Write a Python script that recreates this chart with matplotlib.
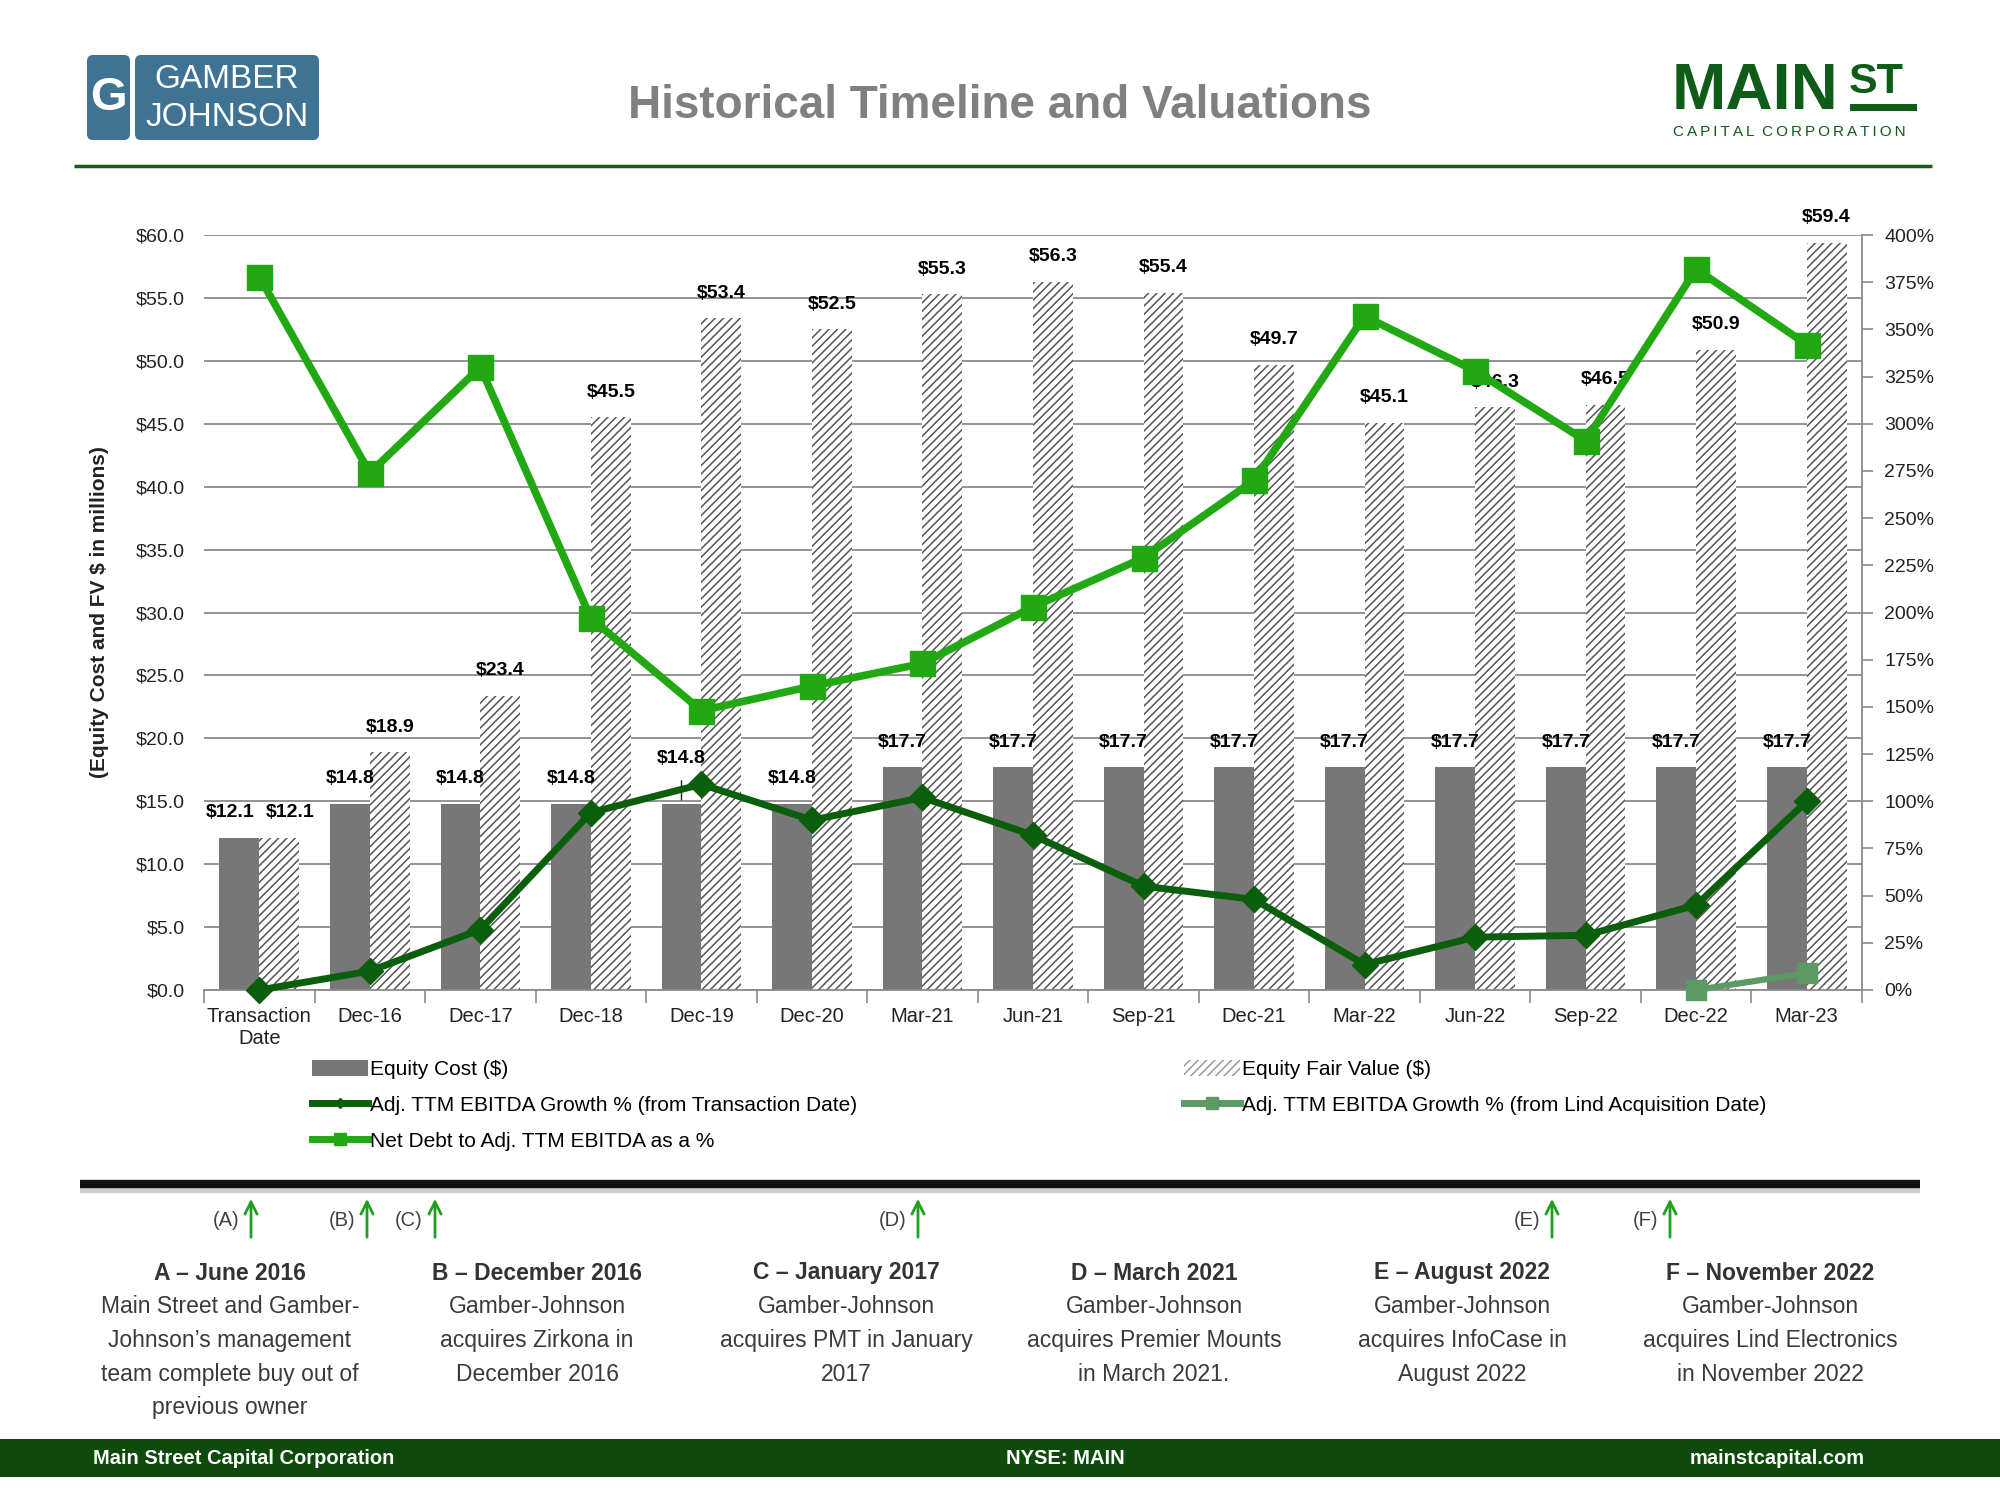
import numpy as np
import matplotlib.pyplot as plt
from matplotlib.patches import Patch, FancyBboxPatch, Rectangle
from matplotlib.lines import Line2D

plt.rcParams['font.family'] = ['Liberation Sans', 'DejaVu Sans']
plt.rcParams['hatch.linewidth'] = 1.1
plt.rcParams['hatch.color'] = '#555555'

# Dados
periodos = ['Transaction\nDate', 'Dec-16', 'Dec-17', 'Dec-18', 'Dec-19', 'Dec-20', 'Mar-21',
            'Jun-21', 'Sep-21', 'Dec-21', 'Mar-22', 'Jun-22', 'Sep-22', 'Dec-22', 'Mar-23']
custo = [12.1, 14.8, 14.8, 14.8, 14.8, 14.8, 17.7, 17.7, 17.7, 17.7, 17.7, 17.7, 17.7, 17.7, 17.7]
valor_justo = [12.1, 18.9, 23.4, 45.5, 53.4, 52.5, 55.3, 56.3, 55.4, 49.7, 45.1, 46.3, 46.5, 50.9, 59.4]
cresc_ebitda = [0, 10, 32, 94, 109, 90, 102, 82, 55, 48, 13.5, 28, 29, 45, 100]
cresc_lind = [np.nan] * 13 + [0, 9]
divida_ebitda = [378, 274, 330, 197, 148, 161, 173, 203, 229, 270, 357, 328, 291, 382, 342]

eventos_letra = ['(A)', '(B)', '(C)', '(D)', '(E)', '(F)']
eventos_x = [251, 367, 435, 918, 1552, 1670]
eventos_titulo = ['A – June 2016', 'B – December 2016', 'C – January 2017',
                  'D – March 2021', 'E – August 2022', 'F – November 2022']
eventos_texto = ["Main Street and Gamber-\nJohnson’s management\nteam complete buy out of\nprevious owner",
                 "Gamber-Johnson\nacquires Zirkona in\nDecember 2016",
                 "Gamber-Johnson\nacquires PMT in January\n2017",
                 "Gamber-Johnson\nacquires Premier Mounts\nin March 2021.",
                 "Gamber-Johnson\nacquires InfoCase in\nAugust 2022",
                 "Gamber-Johnson\nacquires Lind Electronics\nin November 2022"]
eventos_cx = [230, 537, 846, 1154, 1462, 1770]

cor_custo = '#777777'
cor_ebitda = '#0b5e0b'
cor_lind = '#5c9a63'
cor_divida = '#22a812'
verde_escuro = '#0d4a0c'

fig = plt.figure(figsize=(20, 15), dpi=100)

# Camada de fundo em pixels para os elementos decorativos
bg = fig.add_axes([0, 0, 1, 1])
bg.set_xlim(0, 2000)
bg.set_ylim(1500, 0)
bg.axis('off')

# Logo Gamber-Johnson
azul = '#3e7394'
bg.add_patch(FancyBboxPatch((87, 55), 43, 85, boxstyle='round,pad=0,rounding_size=6', fc=azul, ec='none'))
bg.add_patch(FancyBboxPatch((135, 55), 184, 85, boxstyle='round,pad=0,rounding_size=6', fc=azul, ec='none'))
bg.text(108.5, 98, 'G', color='white', fontsize=34, fontweight='bold', ha='center', va='center')
bg.text(227, 80, 'GAMBER', color='white', fontsize=24, ha='center', va='center')
bg.text(227, 118, 'JOHNSON', color='white', fontsize=24, ha='center', va='center')

# Titulo
bg.text(1000, 106, 'Historical Timeline and Valuations', color='#808080', fontsize=33,
        fontweight='bold', ha='center', va='center')

# Logo Main Street
verde_logo = '#0e5c18'
bg.text(1672, 109, 'MAIN', color=verde_logo, fontsize=47, fontweight='bold', ha='left', va='baseline')
bg.text(1849, 93, 'ST', color=verde_logo, fontsize=31, fontweight='bold', ha='left', va='baseline')
bg.add_patch(Rectangle((1850, 104), 67, 7, fc=verde_logo, ec='none'))
bg.text(1673, 136, '\u2009'.join('CAPITAL') + '\u2002' + '\u2009'.join('CORPORATION'), color=verde_logo,
        fontsize=11, ha='left', va='baseline')

# Linha verde do topo
bg.plot([74, 1932], [166, 166], color='#1c5a1c', lw=2.5, solid_capstyle='butt')

# Separador preto com sombra
bg.plot([80, 1920], [1189, 1189], color='#cfcfcf', lw=6, solid_capstyle='butt')
bg.plot([80, 1920], [1184, 1184], color='#111111', lw=6, solid_capstyle='butt')

# Setas e letras dos eventos
for letra, x in zip(eventos_letra, eventos_x):
    bg.annotate('', xy=(x, 1196), xytext=(x, 1240),
                arrowprops=dict(arrowstyle='->', color='#1ea01e', lw=2, mutation_scale=22))
    bg.text(x - 12, 1220, letra, color='#404040', fontsize=14.5, ha='right', va='center')

# Textos dos eventos
for cx, tit, txt in zip(eventos_cx, eventos_titulo, eventos_texto):
    bg.text(cx, 1273, tit, color='#333333', fontsize=16.5, fontweight='bold', ha='center', va='center')
    bg.text(cx, 1295, txt, color='#3a3a3a', fontsize=16.5, ha='center', va='top', linespacing=1.6)

# Rodape
bg.add_patch(Rectangle((0, 1439), 2000, 38, fc=verde_escuro, ec='none'))
bg.text(93, 1458, 'Main Street Capital Corporation', color='white', fontsize=14.5, fontweight='bold',
        ha='left', va='center')
bg.text(1065, 1458, 'NYSE: MAIN', color='white', fontsize=14.5, fontweight='bold',
        ha='center', va='center')
bg.text(1865, 1458, 'mainstcapital.com', color='white', fontsize=14.5, fontweight='bold',
        ha='right', va='center')

# Grafico principal
ax = fig.add_axes([0.102, 0.34, 0.829, 0.5033])
x = np.arange(len(periodos))
w = 0.36
ax.bar(x - w / 2, custo, w, color=cor_custo, zorder=2)
ax.bar(x + w / 2, valor_justo, w, color='white', edgecolor='#555555', linewidth=0, hatch='////', zorder=2)

ax.set_xlim(-0.5, len(periodos) - 0.5)
ax.set_ylim(0, 60)
ax.set_yticks(np.arange(0, 61, 5))
ax.set_yticklabels([f'${v:.1f}' for v in np.arange(0, 61, 5)], fontsize=14)
ax.yaxis.grid(True, color='#8a8a8a', lw=1.3, zorder=0)
ax.set_axisbelow(True)
ax.tick_params(axis='y', length=0, pad=14, colors='#222222')
ax.set_xticks(x)
ax.set_xticklabels(periodos, fontsize=14.5)
ax.set_xticks(np.arange(-0.5, len(periodos)), minor=True)
ax.tick_params(axis='x', which='major', length=0, pad=12, colors='#222222')
ax.tick_params(axis='x', which='minor', length=9, width=1.2, color='#8a8a8a')
for s in ['top', 'left', 'right']:
    ax.spines[s].set_visible(False)
ax.spines['bottom'].set_color('#8a8a8a')
ax.spines['bottom'].set_linewidth(1.3)

# Rotulos das barras
for i in range(len(periodos)):
    dx_c, dx_v = 0, 0
    if i == 0:
        dx_c, dx_v = -0.08, 0.10
    if i == 4:
        ax.annotate(f'${custo[i]:.1f}', xy=(i - w / 2, custo[i] + 0.3), xytext=(0, 30), textcoords='offset points',
                    ha='center', va='center', fontsize=14, fontweight='bold',
                    arrowprops=dict(arrowstyle='-', color='#222222', lw=1, shrinkA=8, shrinkB=0))
    else:
        ax.annotate(f'${custo[i]:.1f}', xy=(i - w / 2 + dx_c, custo[i]), xytext=(0, 18), textcoords='offset points',
                    ha='center', va='center', fontsize=14, fontweight='bold')
    ax.annotate(f'${valor_justo[i]:.1f}', xy=(i + w / 2 + dx_v, valor_justo[i]), xytext=(0, 18),
                textcoords='offset points', ha='center', va='center', fontsize=14, fontweight='bold')

fig.text(0.05, (0.34 + 0.8433) / 2, '(Equity Cost and FV $ in millions)', rotation=90, fontsize=15,
         fontweight='bold', ha='center', va='center', color='#222222')

# Eixo secundario (percentuais)
ax2 = ax.twinx()
ax2.set_ylim(0, 400)
ax2.set_yticks(np.arange(0, 401, 25))
ax2.set_yticklabels([f'{v}%' for v in np.arange(0, 401, 25)], fontsize=14)
ax2.tick_params(axis='y', length=8, width=1.2, color='#8a8a8a', labelcolor='#222222', pad=8)
for s in ['top', 'left', 'bottom']:
    ax2.spines[s].set_visible(False)
ax2.spines['right'].set_color('#8a8a8a')
ax2.spines['right'].set_linewidth(1.3)

ax2.plot(x, divida_ebitda, color=cor_divida, lw=5.5, marker='s', ms=18, zorder=3, clip_on=False)
ax2.plot(x, cresc_ebitda, color=cor_ebitda, lw=5, marker='D', ms=13, zorder=4, clip_on=False)
ax2.plot(x, cresc_lind, color=cor_lind, lw=4.5, marker='s', ms=14, zorder=4, clip_on=False)

# Legendas
h1 = [Patch(fc=cor_custo, ec='none'),
      Line2D([], [], color=cor_ebitda, lw=5, marker='D', ms=5),
      Line2D([], [], color=cor_divida, lw=5, marker='s', ms=9)]
l1 = ['Equity Cost ($)', 'Adj. TTM EBITDA Growth % (from Transaction Date)', 'Net Debt to Adj. TTM EBITDA as a %']
h2 = [Patch(fc='white', ec='#9a9a9a', lw=0, hatch='////'),
      Line2D([], [], color=cor_lind, lw=5, marker='s', ms=9)]
l2 = ['Equity Fair Value ($)', 'Adj. TTM EBITDA Growth % (from Lind Acquisition Date)']
kw = dict(frameon=False, fontsize=15, handlelength=2.7, handleheight=0.8, handletextpad=0.1,
          labelspacing=0.8, borderpad=0, borderaxespad=0, loc='upper left')
fig.legend(h1, l1, bbox_to_anchor=(312 / 2000, 1 - 1060 / 1500), **kw)
fig.legend(h2, l2, bbox_to_anchor=(1184 / 2000, 1 - 1060 / 1500), **kw)

fig.savefig('out.png', dpi=100)
